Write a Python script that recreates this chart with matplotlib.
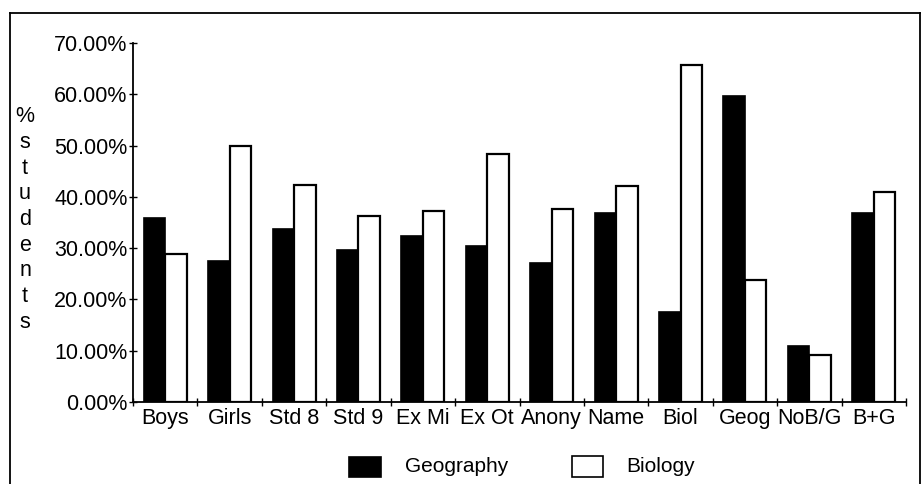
import matplotlib
matplotlib.use("Agg")
import matplotlib.pyplot as plt
from matplotlib.patches import Rectangle
from matplotlib.lines import Line2D
from matplotlib.ticker import FuncFormatter, MultipleLocator
import numpy as np

plt.rcParams['font.family'] = ['Liberation Sans', 'DejaVu Sans']

categories = ["Boys", "Girls", "Std 8", "Std 9", "Ex Mi", "Ex Ot", "Anony",
              "Name", "Biol", "Geog", "NoB/G", "B+G"]
geography = [35.9, 27.5, 33.7, 29.6, 32.4, 30.4, 27.1, 36.8, 17.5, 59.6, 10.9, 36.8]
biology = [28.8, 50.0, 42.3, 36.3, 37.2, 48.3, 37.6, 42.2, 65.7, 23.8, 9.2, 40.9]
ylabel_text = "%students"

W, H = 922, 484
fig = plt.figure(figsize=(W / 100, H / 100), dpi=100)
ax = fig.add_axes([133 / W, (H - 402) / H, (906 - 133) / W, (402 - 43) / H])

x = np.arange(len(categories))
bw = 0.334
ax.bar(x - bw / 2, geography, width=bw, color='black', edgecolor='black', linewidth=1.2)
ax.bar(x + bw / 2, biology, width=bw, color='white', edgecolor='black', linewidth=1.6)

ax.set_xlim(-0.5, len(categories) - 0.5)
ax.set_ylim(0, 70)
ax.yaxis.set_major_locator(MultipleLocator(10))
ax.yaxis.set_major_formatter(FuncFormatter(lambda v, p: f"{v:.2f}%"))
ax.set_xticks(x)
ax.set_xticklabels(categories, fontsize=15.5)
ax.set_xticks(np.arange(-0.5, len(categories)), minor=True)
ax.tick_params(axis='x', which='major', length=0, pad=4)
ax.tick_params(axis='x', which='minor', direction='inout', length=6, width=1)
ax.tick_params(axis='y', direction='inout', length=6, width=1, labelsize=15.5, pad=1)
for s in ['top', 'right']:
    ax.spines[s].set_visible(False)
for s in ['left', 'bottom']:
    ax.spines[s].set_linewidth(1.3)

# vertical stacked y label
ys = np.linspace(117, 322, len(ylabel_text))
for ch, yy in zip(ylabel_text, ys):
    fig.text(25 / W, 1 - yy / H, ch, ha='center', va='center', fontsize=15.5)

# legend
def patch(x0, x1, y0, y1, fc):
    fig.add_artist(Rectangle((x0 / W, 1 - y1 / H), (x1 - x0) / W, (y1 - y0) / H,
                             transform=fig.transFigure, facecolor=fc,
                             edgecolor='black', linewidth=1.2))
patch(349, 381, 457, 477, 'black')
fig.text(405 / W, 1 - 466 / H, "Geography", ha='left', va='center', fontsize=15)
patch(572, 603, 456, 477, 'white')
fig.text(626 / W, 1 - 466 / H, "Biology", ha='left', va='center', fontsize=15)

# outer border
for xs, ys_ in [((10, 10), (13, 484)), ((10, 920), (13, 13)), ((920, 920), (13, 484))]:
    fig.add_artist(Line2D([v / W for v in xs], [1 - v / H for v in ys_],
                          transform=fig.transFigure, color='black', linewidth=1.3))

fig.savefig("out.png", dpi=100)
